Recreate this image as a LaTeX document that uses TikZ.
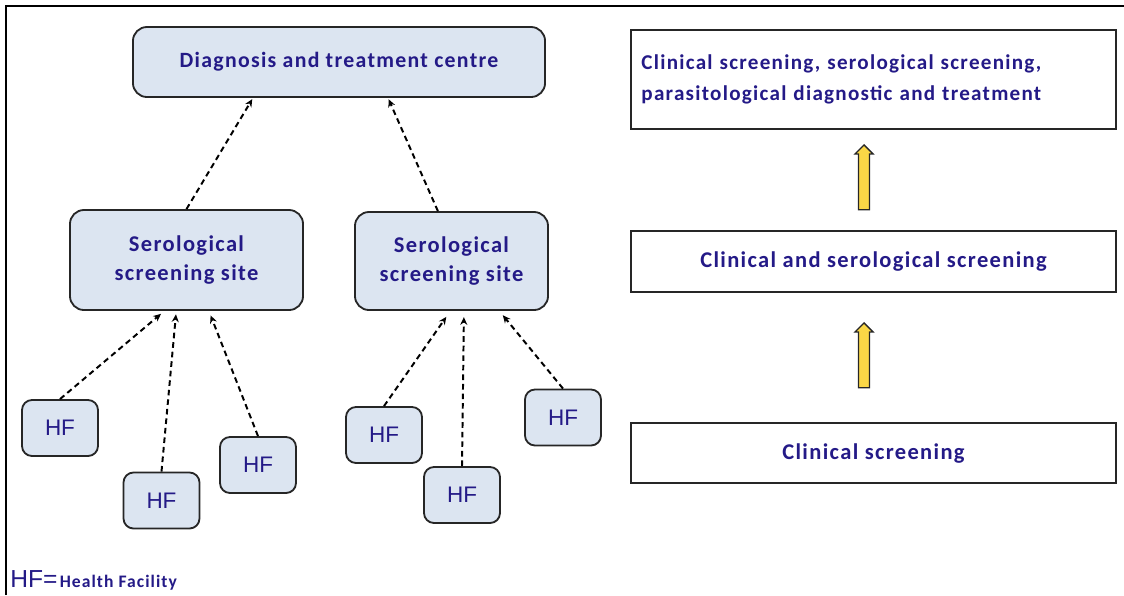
\documentclass[tikz,border=0pt]{standalone}
\usepackage{fontspec}
\setmainfont{Carlito}
\newfontfamily\labelfont[LetterSpace=6]{Carlito}
\newfontfamily\arialfont{Liberation Sans}
\usetikzlibrary{arrows.meta,shapes.arrows}

\definecolor{labelblue}{RGB}{36,26,135}
\definecolor{boxfill}{RGB}{220,229,241}
\definecolor{arrowyellow}{RGB}{250,215,70}

\begin{document}
\begin{tikzpicture}[x=0.025cm, y=-0.025cm,
    site/.style={draw=black!85, line width=1.3pt, rounded corners=0.35cm, fill=boxfill,
        text=labelblue, font=\labelfont\bfseries\fontsize{16}{20}\selectfont, align=center},
    hf/.style={draw=black!85, line width=1.3pt, rounded corners=0.25cm, fill=boxfill,
        text=labelblue, font=\arialfont\fontsize{16}{18}\selectfont,
        minimum width=1.9cm, minimum height=1.4cm},
    level/.style={draw=black!85, line width=1.2pt, minimum width=12.125cm,
        text=labelblue, font=\labelfont\bfseries\fontsize{16}{22}\selectfont},
    link/.style={-{Stealth[length=5.5pt,width=5pt]}, line width=1.4pt,
        dash pattern=on 4pt off 2.8pt, shorten >=1pt},
    uparrow/.style={draw=black!85, line width=0.9pt, fill=arrowyellow, shape=single arrow,
        shape border rotate=90, minimum height=1.62cm, minimum width=0.42cm,
        inner sep=0.12cm, single arrow head extend=0.09cm}]

    % frame
    \useasboundingbox (0,0) rectangle (1124,595);
    \draw[line width=1.5pt] (6,595) -- (6,6) -- (1124,6);

    % left: network of sites
    \node[site, minimum width=10.3cm, minimum height=1.75cm,
        font=\labelfont\bfseries\fontsize{15.5}{20}\selectfont] (centre) at (339,62)
        {Diagnosis and treatment centre};
    \node[site, minimum width=5.825cm, minimum height=2.5cm] (sero1) at (186.5,260)
        {Serological\\screening site};
    \node[site, minimum width=4.825cm, minimum height=2.45cm] (sero2) at (451.5,261)
        {Serological\\screening site};

    \node[hf] (hf1) at (60,428) {HF};
    \node[hf] (hf2) at (161.5,500.5) {HF};
    \node[hf] (hf3) at (258,465) {HF};
    \node[hf] (hf4) at (384,435) {HF};
    \node[hf] (hf5) at (462,495) {HF};
    \node[hf] (hf6) at (563,417.5) {HF};

    \draw[link] (sero1.north) -- ([xshift=-2.15cm]centre.south);
    \draw[link] ([xshift=-0.34cm]sero2.north) -- ([xshift=1.225cm]centre.south);

    \draw[link] (hf1.north) -- ([xshift=-0.61cm, yshift=-0.05cm]sero1.south);
    \draw[link] (hf2.north) -- ([xshift=-0.26cm, yshift=-0.05cm]sero1.south);
    \draw[link] (hf3.north) -- ([xshift=0.59cm, yshift=-0.08cm]sero1.south);
    \draw[link] (hf4.north) -- ([xshift=-0.11cm, yshift=-0.12cm]sero2.south);
    \draw[link] (hf5.north) -- ([xshift=0.31cm, yshift=-0.12cm]sero2.south);
    \draw[link] (hf6.north) -- ([xshift=1.26cm, yshift=-0.08cm]sero2.south);

    % right: levels
    \node[level, minimum height=2.475cm, text width=11.6cm, inner xsep=0.25cm, align=left,
        font=\labelfont\bfseries\fontsize{15}{22}\selectfont]
        (top) at (873.5,79.5)
        {Clinical screening, serological screening,\\parasitological diagnostic and treatment};
    \node[level, minimum height=1.525cm] (middle) at (873.5,261.5)
        {Clinical and serological screening};
    \node[level, minimum height=1.5cm] (bottom) at (873.5,453)
        {Clinical screening};

    \node[uparrow] (up1) at (864,180) {};
    \node[uparrow] (up2) at (864,358) {};

    % legend
    \node[anchor=west, text=labelblue, inner sep=0pt] (legend) at (10,580)
        {{\arialfont\fontsize{17.5}{18}\selectfont HF=}\,{\labelfont\bfseries\fontsize{12.5}{14}\selectfont Health Facility}};
\end{tikzpicture}
\end{document}
